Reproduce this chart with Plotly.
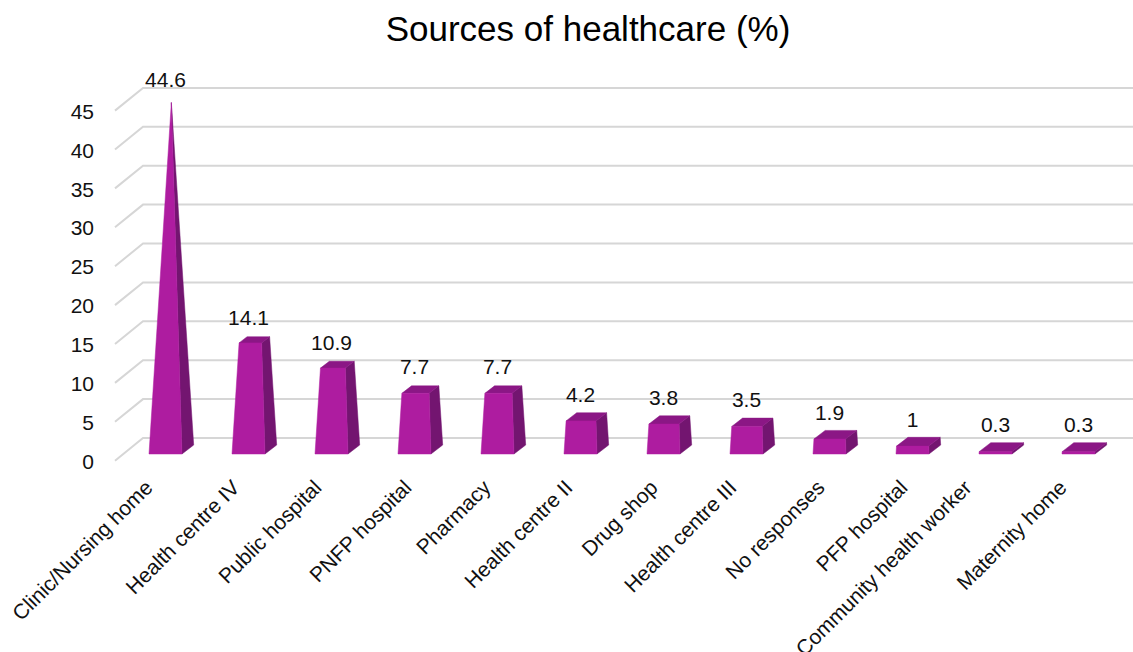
import plotly.graph_objects as go

categories = ["Clinic/Nursing home", "Health centre IV", "Public hospital", "PNFP hospital",
              "Pharmacy", "Health centre II", "Drug shop", "Health centre III",
              "No responses", "PFP hospital", "Community health worker", "Maternity home"]
values = [44.6, 14.1, 10.9, 7.7, 7.7, 4.2, 3.8, 3.5, 1.9, 1, 0.3, 0.3]
labels = ["44.6", "14.1", "10.9", "7.7", "7.7", "4.2", "3.8", "3.5", "1.9", "1", "0.3", "0.3"]
y_ticks = [0, 5, 10, 15, 20, 25, 30, 35, 40, 45]

W, H = 1133, 652
PX_PER_CAT, PX_PER_UNIT = 83.0, 7.78
X0_PX, Y0_PX = 165.5, 454.0
L, R, T, B = 95, 0, 60, 182          # plot rectangle margins
x_of = lambda px: (px - X0_PX) / PX_PER_CAT
y_of = lambda py: (Y0_PX - py) / PX_PER_UNIT

# the reference's slanted labels are not evenly spaced: horizontal nudge of each, in pixels
label_nudge_px = [-3, 1, 0, 7, 3, 2, 4, 0, 5, 5, -14, -2]

BAR_W = 33 / PX_PER_CAT
DX, DY = 11.7 / PX_PER_CAT, 9 / PX_PER_UNIT   # oblique depth of a bar
WALL_DX, WALL_DY = 28 / PX_PER_CAT, 22.7 / PX_PER_UNIT
AX_X, AX_Y = x_of(115), y_of(460.7)
VMAX = max(values)

GRID = "#D6D6D6"
FRONT, SIDE, TOP = "#AE1CA0", "#731570", "#8B1785"
FONT = "Liberation Sans, Arial, sans-serif"

fig = go.Figure()

# back wall and side wall lines, one per tick
gx, gy = [], []
for t in y_ticks:
    gx += [AX_X, AX_X + WALL_DX, x_of(W), None]
    gy += [AX_Y + t, AX_Y + t + WALL_DY, AX_Y + t + WALL_DY, None]
fig.add_trace(go.Scatter(x=gx, y=gy, mode="lines", line=dict(color=GRID, width=2), hoverinfo="skip"))

# pyramid-to-maximum bars: each is a frustum cut at its value
def faces(i, v):
    base = {"fl": (i - BAR_W / 2, 0), "fr": (i + BAR_W / 2, 0),
            "br": (i + BAR_W / 2 + DX, DY), "bl": (i - BAR_W / 2 + DX, DY)}
    apex = (i + DX / 2, DY / 2 + VMAX)
    s = v / VMAX
    top = {k: (p[0] + s * (apex[0] - p[0]), p[1] + s * (apex[1] - p[1])) for k, p in base.items()}
    return base, top

def add_faces(xs, ys, pts):
    xs += [p[0] for p in pts] + [pts[0][0], None]
    ys += [p[1] for p in pts] + [pts[0][1], None]

fx, fy, sx, sy, tx, ty = [], [], [], [], [], []
for i, v in enumerate(values):
    b, t = faces(i, v)
    add_faces(sx, sy, [b["fr"], b["br"], t["br"], t["fr"]])
    add_faces(tx, ty, [t["fl"], t["fr"], t["br"], t["bl"]])
    add_faces(fx, fy, [b["fl"], b["fr"], t["fr"], t["fl"]])

for xs, ys, c in [(sx, sy, SIDE), (tx, ty, TOP), (fx, fy, FRONT)]:
    fig.add_trace(go.Scatter(x=xs, y=ys, mode="lines", fill="toself", fillcolor=c,
                             line=dict(color=c, width=0.5), hoverinfo="skip"))

fig.add_trace(go.Scatter(x=list(range(len(values))), y=[v + 3.2 for v in values], mode="text",
                         text=labels, textposition="middle center",
                         textfont=dict(family=FONT, size=21, color="#111111"), hoverinfo="skip"))

fig.update_layout(
    width=W, height=H, showlegend=False, plot_bgcolor="white", paper_bgcolor="white",
    margin=dict(l=L, r=R, t=T, b=B, autoexpand=False),
    title=dict(text="Sources of healthcare (%)", x=588 / W, xanchor="center", y=1 - 29 / H, yanchor="middle",
               font=dict(family=FONT, size=35, color="#000000")),
    xaxis=dict(range=[x_of(L), x_of(W - R)], showgrid=False, zeroline=False, showline=False,
               tickmode="array",
               tickvals=[i + n / PX_PER_CAT for i, n in enumerate(label_nudge_px)], ticktext=categories,
               tickangle=-45, ticks="", tickfont=dict(family=FONT, size=21, color="#111111"),
               ticklabelstandoff=0, ticklabelshift=-16),
    yaxis=dict(range=[y_of(H - B), y_of(T)], showgrid=False, zeroline=False, showline=False,
               tickmode="array", tickvals=[AX_Y + t - 0.1 for t in y_ticks], ticktext=[str(t) for t in y_ticks],
               ticks="", tickfont=dict(family=FONT, size=21, color="#111111")),
)
fig.write_html("out.html", post_script="document.body.style.margin='0';", config={"displayModeBar": False})
